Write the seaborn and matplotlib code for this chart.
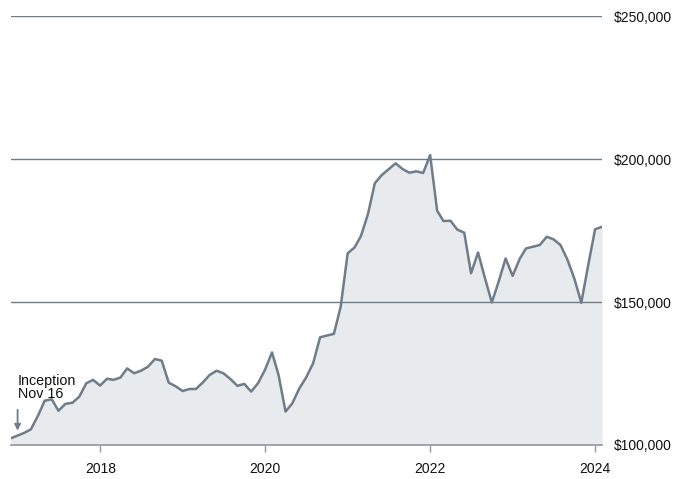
import pandas as pd
import matplotlib.pyplot as plt
import matplotlib.dates as mdates
import matplotlib.ticker as mticker
import seaborn as sns

# Month-end values of the account, Nov 2016 .. Jan 2024
start_month = '2016-11-30'
end_month = '2024-01-31'
values = [
    102300, 103300,
    104300, 105500, 110200, 115500, 116000, 112000, 114400, 114800, 116900, 121600, 122800, 120800,
    123200, 122800, 123600, 126800, 125100, 126000, 127400, 130100, 129500, 121800, 120600, 118900,
    119600, 119600, 121900, 124500, 126000, 125100, 123100, 120700, 121400, 118700, 121600, 126300,
    132400, 124500, 111700, 114600, 119800, 123600, 128600, 137700, 138300, 138900, 148400, 167100,
    169200, 173200, 180900, 191600, 194500, 196500, 198600, 196600, 195300, 195800, 195200, 201500,
    182000, 178400, 178500, 175400, 174300, 160100, 167400, 158300, 149900, 157400, 165300, 159200,
    165100, 168800, 169400, 170000, 172900, 172000, 170000, 164800, 158300, 149800, 162700, 175500,
    176400,
]
y_ticks = [100000, 150000, 200000, 250000]
x_tick_years = ['2018', '2020', '2022', '2024']
note_text = 'Inception\nNov 16'

line_color = '#6f7c89'
fill_color = '#e7ebed'

sns.set_theme(style="white")
plt.rcParams['font.family'] = ['Liberation Sans', 'DejaVu Sans']

df = pd.DataFrame({
    'Date': pd.date_range(start_month, end_month, freq='ME'),
    'Value': values,
})

fig = plt.figure(figsize=(6.87, 4.79), dpi=100)
ax = fig.add_axes([0.0154, 0.071, 0.861, 0.8946])

ax.fill_between(df['Date'], 100000, df['Value'], color=fill_color, lw=0, zorder=1)
sns.lineplot(data=df, x='Date', y='Value', color=line_color, lw=1.8, ax=ax, zorder=3)

ax.set_xlim(df['Date'].iloc[0], df['Date'].iloc[-1])
ax.set_ylim(y_ticks[0], y_ticks[-1])

# gridlines
for v in y_ticks[1:]:
    ax.axhline(v, color=line_color, lw=1.0, zorder=2)

ax.yaxis.tick_right()
ax.set_yticks(y_ticks)
ax.yaxis.set_major_formatter(mticker.FuncFormatter(lambda v, p: f'${v:,.0f}'))
ax.tick_params(axis='y', length=0, pad=8.7, labelsize=10, labelcolor='#111111')

ax.set_xticks([pd.Timestamp(f'{y}-01-01') for y in x_tick_years])
ax.xaxis.set_major_formatter(mdates.DateFormatter('%Y'))
ax.tick_params(axis='x', direction='out', length=5, width=1, color='#8c98a4',
               pad=7, labelsize=10, labelcolor='#111111', bottom=True)

for s in ['top', 'left', 'right']:
    ax.spines[s].set_visible(False)
ax.spines['bottom'].set_color('#8c98a4')
ax.spines['bottom'].set_linewidth(1.2)
ax.spines['bottom'].set_zorder(4)
ax.set_xlabel('')
ax.set_ylabel('')

# inception note with a short downward arrow
note_x = df['Date'].iloc[1]
ax.annotate('', xy=(note_x, 105000), xytext=(note_x, 112300),
            arrowprops=dict(arrowstyle='-|>', color=line_color, lw=1.3,
                            mutation_scale=9, shrinkA=0, shrinkB=0))
ax.text(note_x, 115300, note_text, ha='left', va='bottom', fontsize=10.3,
        color='#111111', linespacing=0.9)

fig.savefig('out.png', dpi=100)
